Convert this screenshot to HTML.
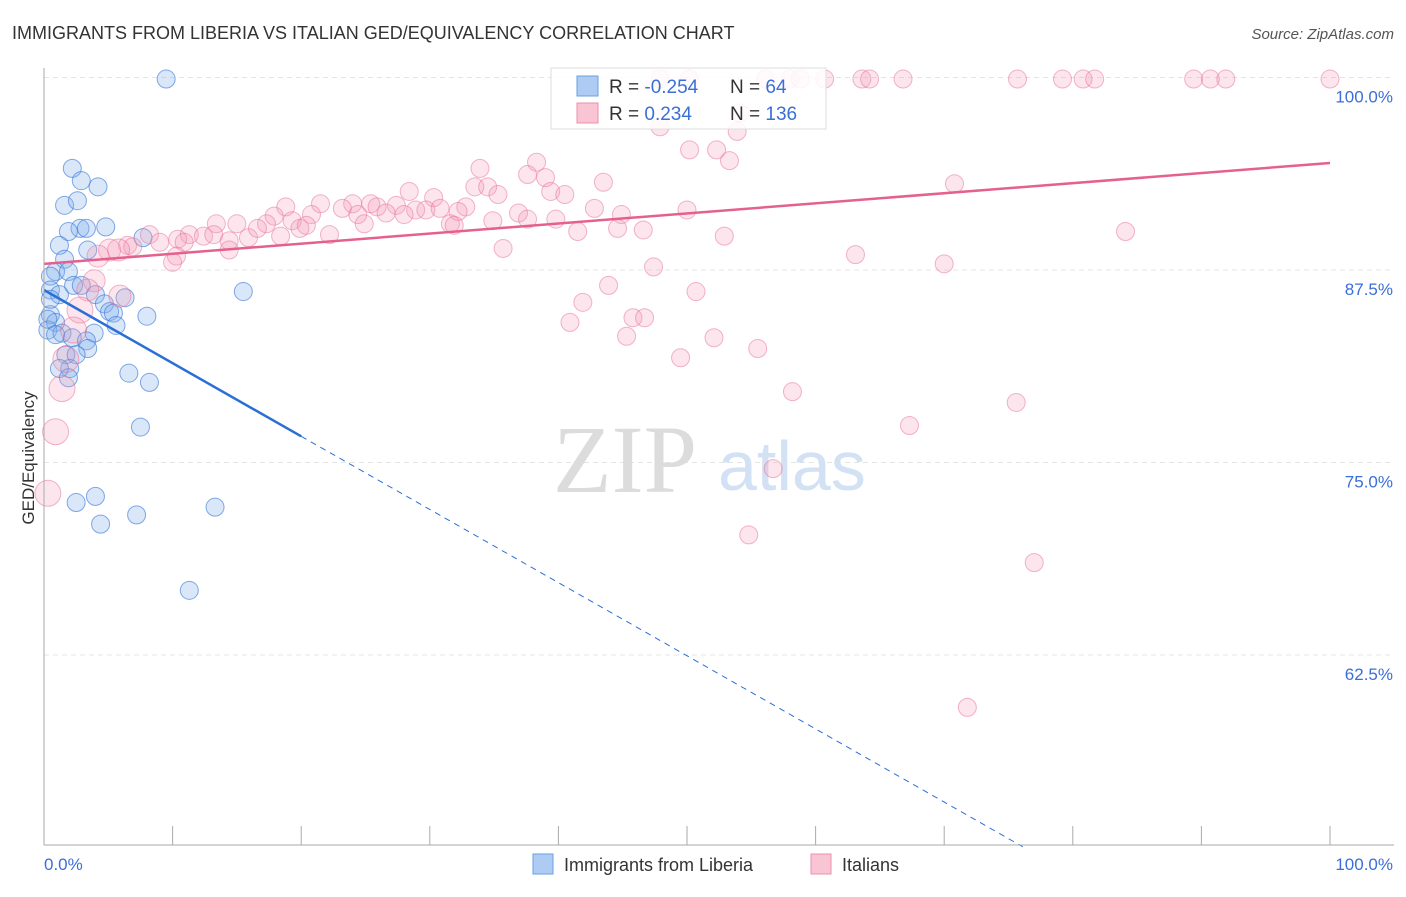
<!DOCTYPE html>
<html><head><meta charset="utf-8"><style>
body{margin:0;background:#fff;font-family:"Liberation Sans",sans-serif;}
svg text{font-family:"Liberation Sans",sans-serif;}
</style></head><body>
<svg id="chart" width="1406" height="892" xmlns="http://www.w3.org/2000/svg">
<text x="12" y="39" font-size="18" fill="#333">IMMIGRANTS FROM LIBERIA VS ITALIAN GED/EQUIVALENCY CORRELATION CHART</text>
<text x="1394" y="39" font-size="15" fill="#555" text-anchor="end" font-style="italic">Source: ZipAtlas.com</text>
<g id="grid"></g>
<g>
<text x="553" y="492" font-size="96" fill="#dcdcdc" font-family="Liberation Serif" style="font-family:'Liberation Serif',serif">ZIP</text>
<text x="718" y="490" font-size="70" fill="#d2e1f3">atlas</text>
</g>
<g id="blue"></g>
<g id="pink"></g>
<g id="lines"></g>
<g id="axes"></g>
<text transform="translate(34,458) rotate(-90)" font-size="17" fill="#333" text-anchor="middle">GED/Equivalency</text>
<g>
<rect x="551" y="68" width="275" height="61" fill="rgba(255,255,255,0.85)" stroke="#ddd"/>
<rect x="577" y="76" width="21" height="20" fill="#aecbf4" stroke="#6a9fe0"/>
<rect x="577" y="103" width="21" height="20" fill="#f9c4d4" stroke="#ec90ad"/>
<text x="609" y="93" font-size="19" fill="#333">R = <tspan fill="#3a6fd8">-0.254</tspan></text>
<text x="730" y="93" font-size="19" fill="#333">N = <tspan fill="#3a6fd8"> 64</tspan></text>
<text x="609" y="120" font-size="19" fill="#333">R = <tspan fill="#3a6fd8"> 0.234</tspan></text>
<text x="730" y="120" font-size="19" fill="#333">N = <tspan fill="#3a6fd8">136</tspan></text>
</g>
<g>
<rect x="533" y="854" width="20" height="20" fill="#aecbf4" stroke="#6a9fe0"/>
<text x="564" y="871" font-size="18" fill="#333">Immigrants from Liberia</text>
<rect x="811" y="854" width="20" height="20" fill="#f9c4d4" stroke="#ec90ad"/>
<text x="842" y="871" font-size="18" fill="#333">Italians</text>
</g>
</svg>
<script>
const xTicksPct=[0,10,20,30,40,50,60,70,80,90,100];
const yTicks=[100,87.5,75,62.5];
const yTickLabels=["100.0%","87.5%","75.0%","62.5%"];
const blueX=[9.5,2.2,4.2,2.9,1.6,2.6,2.8,3.3,4.8,1.9,1.2,3.4,7.7,1.6,0.9,1.9,0.5,0.5,1.2,2.3,2.9,4.0,6.3,15.5,4.7,5.1,5.4,8.0,0.5,0.9,0.3,1.4,2.2,3.9,3.3,5.6,3.4,1.7,2.5,2.0,1.2,1.9,6.6,8.2,7.5,4.0,2.5,7.2,13.3,4.4,11.3,0.5,0.3,0.9];
const blueY=[99.9,94.1,92.9,93.3,91.7,92.0,90.2,90.2,90.3,90.0,89.1,88.8,89.6,88.2,87.4,87.4,87.1,86.2,85.9,86.5,86.5,85.9,85.7,86.1,85.3,84.8,84.7,84.5,84.6,84.1,83.6,83.4,83.1,83.4,82.9,83.9,82.4,82.0,82.0,81.1,81.1,80.5,80.8,80.2,77.3,72.8,72.4,71.6,72.1,71.0,66.7,85.6,84.3,83.3];
const pinkX=[47.9,50.2,56.1,58.0,58.8,60.7,63.6,64.2,66.8,75.7,79.2,80.8,81.7,89.4,90.7,91.9,100,47.9,53.9,54.1,50.2,52.3,53.3,38.3,33.9,37.6,39.0,43.5,33.5,34.5,39.4,40.5,28.4,30.3,35.3,70.8,21.5,24.0,25.4,25.9,27.4,18.8,23.2,28.9,29.7,30.8,32.8,32.2,36.9,42.8,44.9,50.0,17.9,19.3,20.8,24.4,26.6,28.0,34.9,37.6,39.8,13.4,15.0,17.3,19.9,20.4,24.9,31.6,31.9,41.5,44.6,46.6,52.9,84.1,8.2,11.3,12.4,13.2,14.4,15.9,16.6,18.4,22.2,9.0,10.4,10.9,6.5,6.9,5.1,5.8,4.2,10.3,10.0,14.4,35.7,63.1,70.0,47.4,3.9,3.4,5.9,2.8,43.9,50.7,41.9,45.8,46.7,40.9,2.3,45.3,52.1,55.5,49.5,1.7,1.4,58.2,75.6,67.3,0.9,56.7,0.3,54.8,77.0,71.8];
const pinkY=[99.9,99.9,99.9,99.9,99.9,99.9,99.9,99.9,99.9,99.9,99.9,99.9,99.9,99.9,99.9,99.9,99.9,96.8,96.5,97.7,95.3,95.3,94.6,94.5,94.1,93.7,93.5,93.2,92.9,92.9,92.6,92.4,92.6,92.2,92.4,93.1,91.8,91.8,91.8,91.6,91.7,91.6,91.5,91.4,91.4,91.5,91.6,91.3,91.2,91.5,91.1,91.4,91.0,90.7,91.1,91.1,91.2,91.1,90.7,90.8,90.8,90.5,90.5,90.5,90.2,90.4,90.5,90.5,90.4,90.0,90.2,90.1,89.7,90.0,89.8,89.8,89.7,89.8,89.4,89.6,90.2,89.7,89.8,89.3,89.5,89.3,89.1,89.0,88.8,88.8,88.4,88.4,88.0,88.8,88.9,88.5,87.9,87.7,86.8,86.2,85.8,84.9,86.5,86.1,85.4,84.4,84.4,84.1,83.6,83.2,83.1,82.4,81.8,81.7,79.8,79.6,78.9,77.4,77.0,74.6,73.0,70.3,68.5,59.1];
const blueTrend=[86.2,-0.475];
const pinkTrend=[87.9,0.0655];

const NS="http://www.w3.org/2000/svg";
const X=v=>44+v*12.86;
const Y=v=>77.5+(100-v)*15.4;
function mk(tag,attrs,parent){const e=document.createElementNS(NS,tag);for(const k in attrs)e.setAttribute(k,attrs[k]);parent.appendChild(e);return e;}
const grid=document.getElementById('grid'),axes=document.getElementById('axes');
yTicks.forEach((t,i)=>{
  const l=mk('line',{x1:44,x2:1394,y1:Y(t),y2:Y(t),stroke:'#e4e4e4','stroke-dasharray':'5,4'},grid);
  
  
  const tx=mk('text',{x:1393,y:Y(t)+25,'font-size':17,fill:'#3a6fd8','text-anchor':'end'},axes);
  tx.textContent=yTickLabels[i];
  
  
});
const ax=mk('line',{x1:44,x2:1394,y1:845,y2:845,stroke:'#aaa'},axes);


const ay=mk('line',{x1:44,x2:44,y1:68,y2:845,stroke:'#aaa'},axes);


xTicksPct.forEach(t=>{
  const l=mk('line',{x1:X(t),x2:X(t),y1:826,y2:845,stroke:'#aaa'},axes);
  
  
});
const xl0=mk('text',{x:44,y:870,'font-size':17,fill:'#3a6fd8'},axes);xl0.textContent='0.0%';


const xl1=mk('text',{x:1393,y:870,'font-size':17,fill:'#3a6fd8','text-anchor':'end'},axes);xl1.textContent='100.0%';



const bg=document.getElementById('blue'),pg=document.getElementById('pink');
pinkX.forEach((x,i)=>{
  const r=x<6?(pinkY[i]<85?13:11):9;
  const c=mk('circle',{cx:X(x),cy:Y(pinkY[i]),r:r,fill:'rgba(244,150,180,0.25)',stroke:'rgba(232,110,150,0.5)','stroke-width':1},pg);
  
  
});
blueX.forEach((x,i)=>{
  const c=mk('circle',{cx:X(x),cy:Y(blueY[i]),r:9,fill:'rgba(130,175,235,0.3)',stroke:'rgba(50,115,215,0.6)','stroke-width':1},bg);
  
  
});
const lg=document.getElementById('lines');
const bf=x=>blueTrend[0]+blueTrend[1]*x, pf=x=>pinkTrend[0]+pinkTrend[1]*x;
const pl=mk('line',{x1:X(0),y1:Y(pf(0)),x2:X(100),y2:Y(pf(100)),stroke:'#e4618f','stroke-width':2.5},lg);


const bs=mk('line',{x1:X(0),y1:Y(bf(0)),x2:X(20),y2:Y(bf(20)),stroke:'#2a6fd6','stroke-width':2.5},lg);


const xe=(50.05-blueTrend[0])/blueTrend[1];
const bd=mk('line',{x1:X(20),y1:Y(bf(20)),x2:X(xe),y2:Y(bf(xe)),stroke:'#2a6fd6','stroke-width':1,'stroke-dasharray':'6,5'},lg);


</script>
</body></html>
